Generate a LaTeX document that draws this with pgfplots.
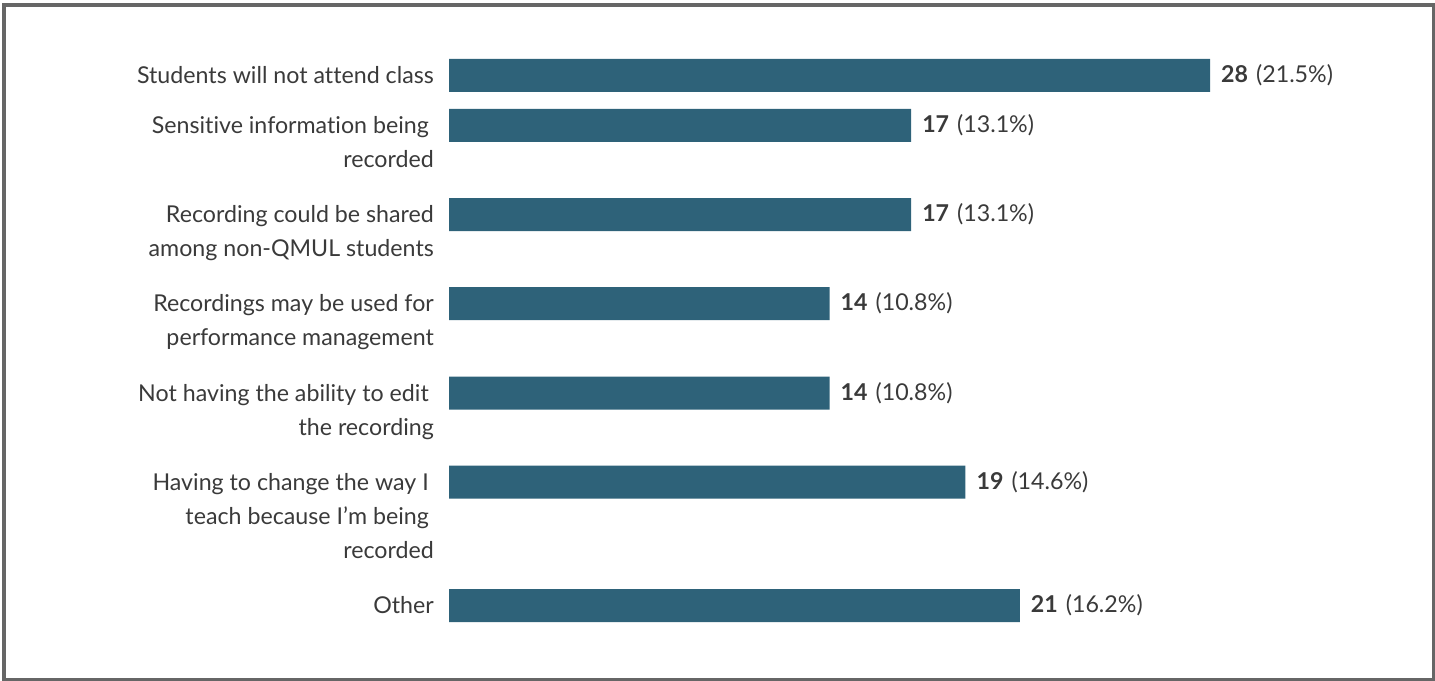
\documentclass[border=0pt]{standalone}
\usepackage{pgfplots}
\pgfplotsset{compat=1.18}
\usepackage{pgfplotstable}
\usepackage{fontspec}
\setmainfont{Lato}[Ligatures={NoCommon}]
\definecolor{barc}{HTML}{2E6279}
\definecolor{txt}{HTML}{3A3A3A}
\definecolor{frm}{HTML}{666666}
\pgfplotstableread{
v y pct
28 75.5 21.5
17 125.5 13.1
17 214.5 13.1
14 303.5 10.8
14 393 10.8
19 482 14.6
21 605.5 16.2
}\data
\newcommand{\lfont}{\fontsize{23.2bp}{34bp}\selectfont}
\begin{document}
\begin{tikzpicture}
\begin{axis}[
  at={(0,0)}, anchor=south west,
  scale only axis, width=1435bp, height=681bp,
  xmin=-16.52, xmax=36.28, ymin=0, ymax=681, y dir=reverse,
  axis lines=none, ticks=none, clip=false,
  xbar, bar width=33bp,
  /pgf/number format/assume math mode=true,
  point meta=explicit,
  visualization depends on={x \as \cnt},
  nodes near coords={\textbf{\pgfmathprintnumber[fixed,precision=0]{\cnt}}\hspace{8bp}(\pgfmathprintnumber[fixed,precision=1,fixed zerofill]{\pgfplotspointmeta}\%)},
  nodes near coords style={anchor=west, inner sep=0pt, xshift=11bp, text=txt, font=\lfont},
]
\addplot[fill=barc, draw=none] table[x=v, y=y, meta=pct] {\data};
\tikzset{lab/.style={anchor=north east, align=right, inner sep=0pt, xshift=-15bp, font=\lfont, text=txt}}
\node[lab] at (axis cs:0,59.7) {\strut Students will not attend class};
\node[lab] at (axis cs:0,109.7) {\strut Sensitive information being\kern5bp\\\strut recorded};
\node[lab] at (axis cs:0,198.7) {\strut Recording could be shared\\\strut among non-QMUL students};
\node[lab] at (axis cs:0,287.7) {\strut Recordings may be used for\\\strut performance management};
\node[lab] at (axis cs:0,377.2) {\strut Not having the ability to edit\kern5bp\\\strut the recording};
\node[lab] at (axis cs:0,466.2) {\strut Having to change the way I\kern5bp\\\strut teach because I’m being\kern5bp\\\strut recorded};
\node[lab] at (axis cs:0,589.7) {\strut Other};
\end{axis}
\draw[frm, line width=3.5bp] (4bp,1bp) rectangle (1434bp,676bp);
\pgfresetboundingbox
\useasboundingbox (0,0) rectangle (1435bp,681bp);
\end{tikzpicture}
\end{document}
